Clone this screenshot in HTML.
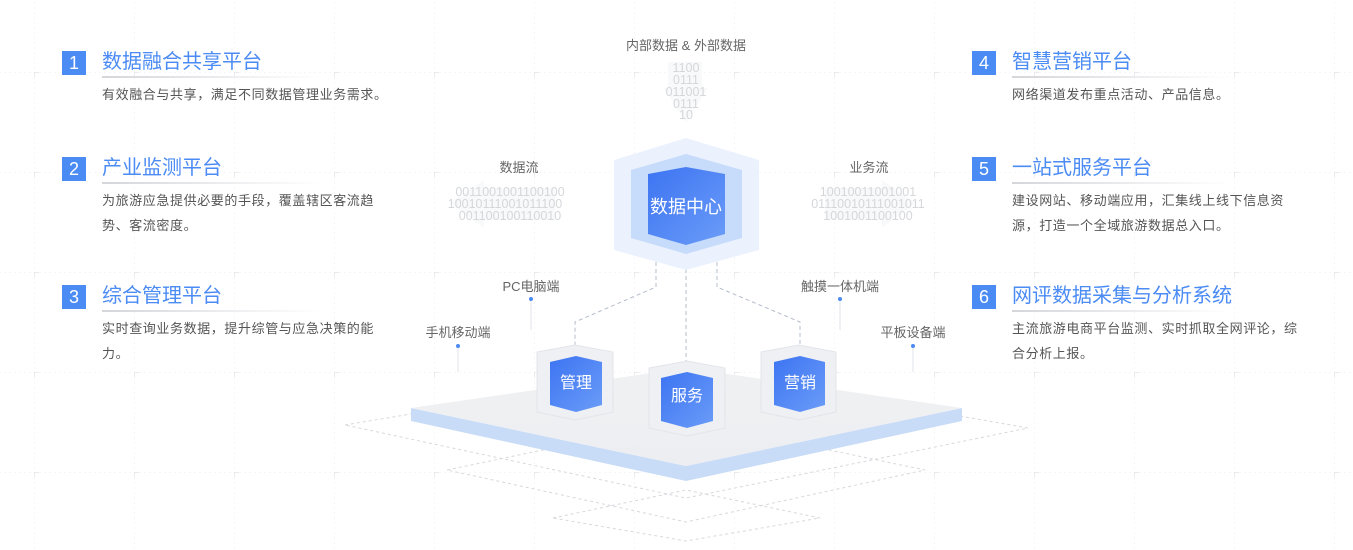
<!DOCTYPE html>
<html><head><meta charset="utf-8">
<style>
html,body{margin:0;padding:0;background:#fff;}
body{width:1353px;height:550px;overflow:hidden;position:relative;font-family:"Liberation Sans","Noto Sans CJK SC",sans-serif;}
svg{position:absolute;left:0;top:0;}
.item{position:absolute;width:330px;}
.num{position:absolute;left:0;top:0;width:24px;height:24px;background:#4b8bf4;color:#fff;font-size:18px;line-height:24px;text-align:center;}
.tt{position:absolute;left:40px;top:-3px;font-size:20px;color:#4b8bf4;white-space:nowrap;line-height:28px;}
.ul{position:absolute;left:40px;top:25px;width:220px;height:2px;background:linear-gradient(90deg,#d4d6da,#fff);}
.ds{position:absolute;left:40px;top:31px;width:320px;font-size:13px;letter-spacing:0.6px;color:#555;line-height:25px;white-space:nowrap;}
.lb{position:absolute;font-size:13px;color:#666;white-space:nowrap;transform:translateX(-50%);}
</style></head><body>
<svg width="1353" height="550" viewBox="0 0 1353 550">
<defs>
<pattern id="g" width="100" height="100" patternUnits="userSpaceOnUse" x="34" y="72">
<path d="M0 0H100M0 0V100" stroke="#eceef1" stroke-width="1" stroke-dasharray="2 3" fill="none"/>
<path d="M-5 0H5M0 -5V5" stroke="#d8dade" stroke-width="1"/>
</pattern>
<linearGradient id="cb" x1="0" y1="0" x2="1" y2="1"><stop offset="0" stop-color="#3d74f2"/><stop offset="1" stop-color="#6b9cf8"/></linearGradient>
<linearGradient id="pt" x1="0" y1="0" x2="0" y2="1"><stop offset="0" stop-color="#f0f1f3"/><stop offset="1" stop-color="#eceef1"/></linearGradient>
</defs>
<rect width="1353" height="550" fill="url(#g)"/>
<g fill="none" stroke="#d6d8dc" stroke-dasharray="3 3" stroke-width="1">
<polygon points="345,425 686,368 1028,428 686,498"/>
<polygon points="447,470 686,420 925,470 686,522"/>
<polygon points="553,518 686,490 820,518 686,541"/>
</g>
<polygon points="411,408 411,421 686,481 962,421 962,408 686,466" fill="#c9dcf7"/>
<polygon points="411,408 686,368 962,408 686,466" fill="url(#pt)"/>
<g fill="none" stroke="#b5bccb" stroke-dasharray="4 3" stroke-width="1">
<path d="M656 262V287L575 322V350"/>
<path d="M686 262V365"/>
<path d="M717 262V287L800 322V350"/>
</g>
<g stroke="#dfe3ea" stroke-width="1">
<line x1="531" y1="300" x2="531" y2="330"/><line x1="458" y1="347" x2="458" y2="372"/>
<line x1="840" y1="300" x2="840" y2="330"/><line x1="913" y1="347" x2="913" y2="372"/>
</g>
<g fill="#4b8bf4"><circle cx="531" cy="299" r="2"/><circle cx="458" cy="346" r="2"/><circle cx="840" cy="299" r="2"/><circle cx="913" cy="346" r="2"/></g>
<polygon points="686,138 759,160 759,250 686,270 614,250 614,160" fill="#ebf2fe"/>
<polygon points="686,154 742,170 742,238 686,254 631,238 631,170" fill="#c7dbfa"/>
<polygon points="686,167 725,174 725,234 686,245 648,234 648,174" fill="url(#cb)"/>
<text x="686" y="213" font-size="18" fill="#fff" text-anchor="middle" font-family="Liberation Sans,Noto Sans CJK SC,sans-serif">数据中心</text>
<g font-family="Liberation Sans,sans-serif" font-size="12.5" fill="#d5d7db" text-anchor="middle">
<polygon points="668,62 702,62 702,88 708,88 686,122 664,88 668,88" fill="#f8f9fa"/>
<text x="686" y="72">1100</text><text x="686" y="84">0111</text><text x="686" y="96">011001</text><text x="686" y="108">0111</text><text x="686" y="119">10</text>
<polygon points="450,203 484,180 484,188 555,188 555,220 484,220 484,228" fill="#f8f9fa"/>
<text x="510" y="196">0011001001100100</text><text x="505" y="208">10010111001011100</text><text x="510" y="220">001100100110010</text>
<polygon points="915,203 882,180 882,188 825,188 825,220 882,220 882,228" fill="#f8f9fa"/>
<text x="868" y="196">10010011001001</text><text x="868" y="208">01110010111001011</text><text x="868" y="220">1001001100100</text>
</g>
<g>
<polygon points="537,352 575,345 613,352 613,412 575,420 537,412" fill="#eef0f3" stroke="#e2e5ea"/>
<polygon points="550,362 576,356 602,362 602,405 576,412 550,405" fill="url(#cb)"/>
<polygon points="649,368 687,361 725,368 725,428 687,436 649,428" fill="#eef0f3" stroke="#e2e5ea"/>
<polygon points="661,378 687,372 713,378 713,421 687,428 661,421" fill="url(#cb)"/>
<polygon points="761,352 799,345 836,352 836,412 799,420 761,412" fill="#eef0f3" stroke="#e2e5ea"/>
<polygon points="774,362 800,356 825,362 825,405 800,412 774,405" fill="url(#cb)"/>
<g font-size="16" fill="#fff" text-anchor="middle" font-family="Liberation Sans,Noto Sans CJK SC,sans-serif">
<text x="576" y="388">管理</text><text x="687" y="401">服务</text><text x="800" y="388">营销</text></g>
</g>
</svg>

<div class="lb" style="left:686px;top:35px;">内部数据 &amp; 外部数据</div>
<div class="lb" style="left:519px;top:157px;">数据流</div>
<div class="lb" style="left:869px;top:157px;">业务流</div>
<div class="lb" style="left:531px;top:276px;">PC电脑端</div>
<div class="lb" style="left:458px;top:322px;">手机移动端</div>
<div class="lb" style="left:840px;top:276px;">触摸一体机端</div>
<div class="lb" style="left:913px;top:322px;">平板设备端</div>

<div class="item" style="left:62px;top:51px;"><div class="num">1</div><div class="tt">数据融合共享平台</div><div class="ul"></div><div class="ds">有效融合与共享，满足不同数据管理业务需求。</div></div>
<div class="item" style="left:62px;top:157px;"><div class="num">2</div><div class="tt">产业监测平台</div><div class="ul"></div><div class="ds">为旅游应急提供必要的手段，覆盖辖区客流趋<br>势、客流密度。</div></div>
<div class="item" style="left:62px;top:285px;"><div class="num">3</div><div class="tt">综合管理平台</div><div class="ul"></div><div class="ds">实时查询业务数据，提升综管与应急决策的能<br>力。</div></div>
<div class="item" style="left:972px;top:51px;"><div class="num">4</div><div class="tt">智慧营销平台</div><div class="ul"></div><div class="ds">网络渠道发布重点活动、产品信息。</div></div>
<div class="item" style="left:972px;top:157px;"><div class="num">5</div><div class="tt">一站式服务平台</div><div class="ul"></div><div class="ds">建设网站、移动端应用，汇集线上线下信息资<br>源，打造一个全域旅游数据总入口。</div></div>
<div class="item" style="left:972px;top:285px;"><div class="num">6</div><div class="tt">网评数据采集与分析系统</div><div class="ul"></div><div class="ds">主流旅游电商平台监测、实时抓取全网评论，综<br>合分析上报。</div></div>
</body></html>
